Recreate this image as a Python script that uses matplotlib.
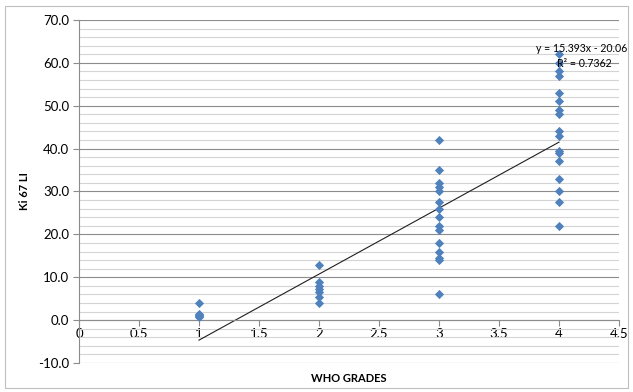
import numpy as np
import matplotlib
matplotlib.use("Agg")
from matplotlib import pyplot as plt
from matplotlib.patches import Rectangle
from matplotlib.ticker import MultipleLocator, FormatStrFormatter

plt.rcParams['font.family'] = ['Lato', 'DejaVu Sans']

# data
grade1 = [4.0, 1.5, 1.2, 1.0, 0.8]
grade2 = [12.8, 9.0, 8.0, 7.2, 6.5, 5.5, 4.0]
grade3 = [42.0, 35.0, 32.0, 31.0, 30.0, 27.5, 26.0, 24.0, 22.0, 21.0, 18.0, 16.0, 14.5, 14.0, 6.0]
grade4 = [62.0, 60.0, 58.0, 57.0, 53.0, 51.0, 49.0, 48.0, 44.0, 43.0, 39.5, 39.0, 37.0, 33.0, 30.0, 27.5, 22.0]
grades = [1, 2, 3, 4]
slope, intercept = 15.393, -20.06
r2 = 0.7362

x = np.concatenate([[g] * len(v) for g, v in zip(grades, [grade1, grade2, grade3, grade4])])
y = np.concatenate([grade1, grade2, grade3, grade4])

fig = plt.figure(figsize=(6.33, 3.92), dpi=100)
ax = fig.add_axes([79 / 633, 29 / 392, 540 / 633, 343 / 392])

# chart border
fig.patches.append(Rectangle((5 / 633, 4 / 392), 623 / 633, 382 / 392, transform=fig.transFigure,
                             fill=False, edgecolor='#bfbfbf', lw=0.8))

ax.set_xlim(0, 4.5)
ax.set_ylim(-10, 70)
ax.yaxis.set_major_locator(MultipleLocator(10))
ax.yaxis.set_minor_locator(MultipleLocator(2))
ax.yaxis.set_major_formatter(FormatStrFormatter('%.1f'))
ax.xaxis.set_major_locator(MultipleLocator(0.5))
ax.xaxis.set_major_formatter(matplotlib.ticker.FuncFormatter(lambda v, p: ('%g' % v)))

ax.grid(which='major', axis='y', color='#8c8c8c', lw=0.8)
ax.grid(which='minor', axis='y', color='#d4d4d4', lw=0.8)
ax.set_axisbelow(True)

for s in ['top', 'right']:
    ax.spines[s].set_visible(False)
ax.spines['bottom'].set_position(('data', 0))
ax.spines['bottom'].set_color('#8c8c8c')
ax.spines['left'].set_color('#8c8c8c')
ax.tick_params(axis='y', which='major', length=4, color='#8c8c8c', labelsize=9.5, pad=3)
ax.tick_params(axis='y', which='minor', length=0)
ax.tick_params(axis='x', length=4, color='#8c8c8c', labelsize=9.5, pad=2)

ax.scatter(x, y, marker='D', s=22, color='#4f81bd', zorder=3, linewidths=0)

xs = np.array([min(grades), max(grades)])
ax.plot(xs, slope * xs + intercept, color='#202020', lw=0.8, zorder=2)

ax.text(3.81, 63.4, 'y = 15.393x - 20.06', fontsize=7.6, ha='left', va='center', clip_on=False)
ax.text(3.98, 59.9, 'R² = %.4f' % r2, fontsize=7.6, ha='left', va='center')

ax.set_xlabel('WHO GRADES', fontsize=8, fontweight='bold')
ax.set_ylabel('Ki 67 LI', fontsize=8, fontweight='bold', labelpad=6)
ax.xaxis.set_label_coords(0.5, -0.03)

fig.savefig('out.png', dpi=100)
